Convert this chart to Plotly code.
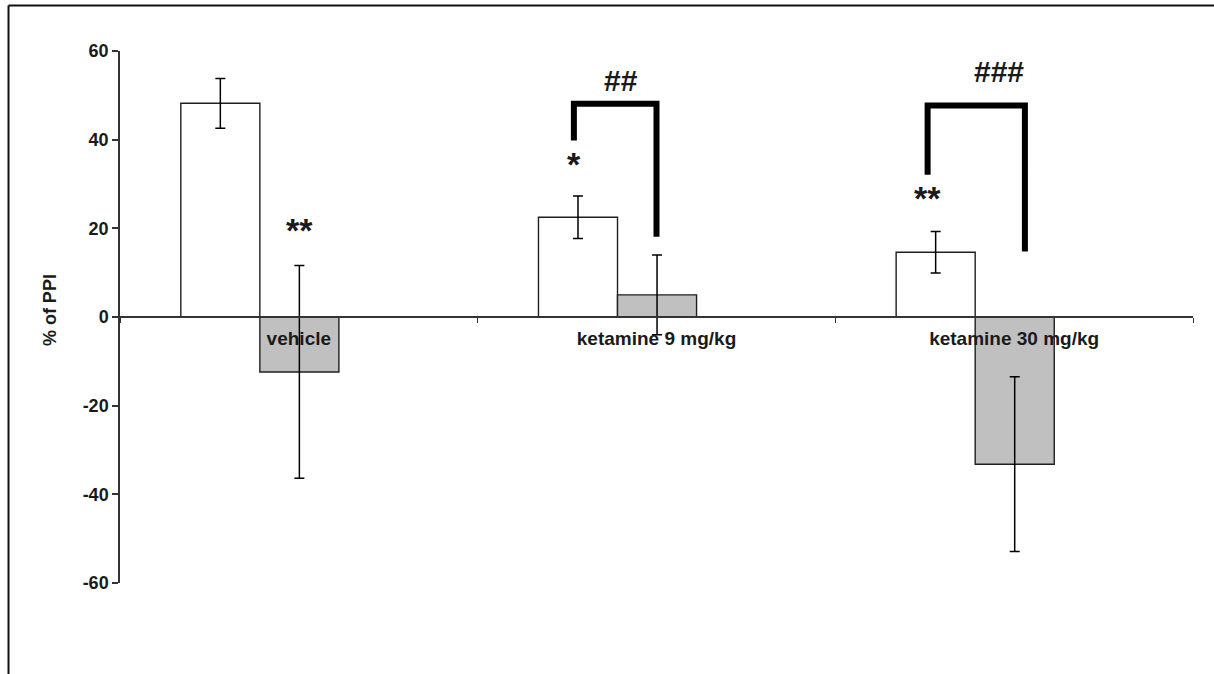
import plotly.graph_objects as go

# Groups and % PPI values (mean and error) for the two bars in each group
groups = ["vehicle", "ketamine 9 mg/kg", "ketamine 30 mg/kg"]
first_mean = [48.2, 22.5, 14.6]
first_err = [5.6, 4.8, 4.7]
second_mean = [-12.4, 5.0, -33.2]
second_err = [24.0, 9.0, 19.7]

y_tick_vals = [-60, -40, -20, 0, 20, 40, 60]
y_tick_text = ["-60", "-40", "-20", "0", "20", "40", "60"]

FONT = "Liberation Sans, Arial, sans-serif"
INK = "#1a1a1a"
BAR_W = 0.221

fig = go.Figure()
fig.add_trace(go.Bar(
    x=groups, y=first_mean, width=BAR_W, offset=-0.33,
    marker=dict(color="white", line=dict(color="#1f1f1f", width=1.4)),
    error_y=dict(type="data", array=first_err, color="black", thickness=1.5, width=5),
    showlegend=False,
))
fig.add_trace(go.Bar(
    x=groups, y=second_mean, width=BAR_W, offset=-0.109,
    marker=dict(color="#c0c0c0", line=dict(color="#1f1f1f", width=1.4)),
    error_y=dict(type="data", array=second_err, color="black", thickness=1.5, width=5),
    showlegend=False,
))

# significance brackets (left x, right x, left foot, right foot, top)
brackets = [
    (0.769, 1.0, 39.8, 18.1, 48.1),
    (1.758, 2.03, 32.1, 14.8, 47.7),
]
shapes = []
for xl, xr, yl, yr, yt in brackets:
    shapes.append(dict(
        type="path", xref="x", yref="y",
        path=f"M {xl},{yl} L {xl},{yt} L {xr},{yt} L {xr},{yr}",
        line=dict(color="black", width=6),
    ))

# outer frame (left and top edges)
shapes.append(dict(type="line", xref="paper", yref="paper",
                   x0=-0.1039, x1=-0.1039, y0=1.0855, y1=-0.2,
                   line=dict(color="#111111", width=2)))
shapes.append(dict(type="line", xref="paper", yref="paper",
                   x0=-0.1039, x1=1.05, y0=1.0855, y1=1.0855,
                   line=dict(color="#111111", width=2)))

annotations = []
marks = [
    ("**", 0.003, 19.7, 34),
    ("*", 0.769, 34.4, 34),
    ("**", 1.759, 26.8, 34),
    ("##", 0.8995, 53.3, 30),
    ("###", 1.958, 55.3, 30),
]
for txt, x, y, size in marks:
    annotations.append(dict(
        text=txt, x=x, y=y, xref="x", yref="y", showarrow=False,
        xanchor="center", yanchor="middle",
        font=dict(family=FONT, size=size, color=INK, weight="bold"),
    ))
annotations.append(dict(
    text="% of PPI", x=-0.0652, y=0.513, xref="paper", yref="paper",
    showarrow=False, textangle=-90, xanchor="center", yanchor="middle",
    font=dict(family=FONT, size=18, color=INK, weight="bold"),
))

fig.update_layout(
    width=1214, height=674,
    margin=dict(l=120, r=21, t=51, b=91),
    paper_bgcolor="white", plot_bgcolor="white",
    barmode="overlay",
    shapes=shapes, annotations=annotations,
    xaxis=dict(
        type="category", range=[-0.5, 2.5],
        anchor="free", position=0.5,
        showline=True, linecolor="#333333", linewidth=1.5,
        ticks="outside", tickson="boundaries", ticklen=5, tickcolor="#333333",
        tickwidth=1.2, ticklabelstandoff=4,
        showgrid=False, zeroline=False,
        tickfont=dict(family=FONT, size=19, color=INK, weight="bold"),
    ),
    yaxis=dict(
        range=[-60, 60], tickvals=y_tick_vals, ticktext=y_tick_text,
        showline=True, linecolor="#333333", linewidth=1.5,
        ticks="outside", ticklen=6, tickcolor="#333333", tickwidth=1.5,
        showgrid=False, zeroline=False,
        tickfont=dict(family=FONT, size=18, color=INK, weight="bold"),
    ),
)

fig.write_html("out.html")
